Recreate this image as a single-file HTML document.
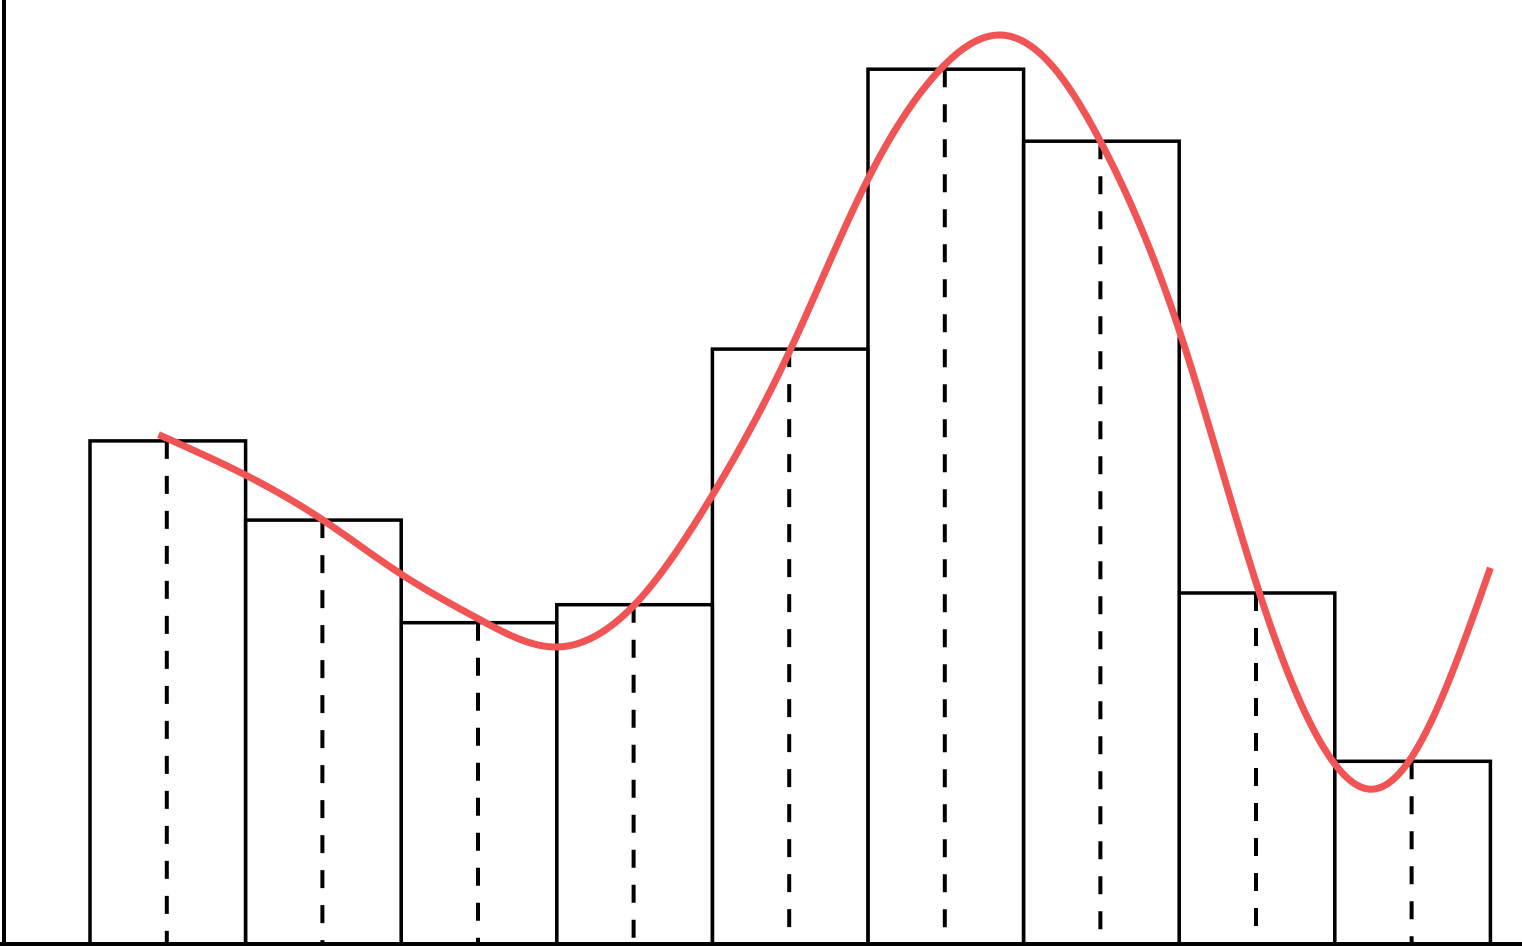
<!DOCTYPE html>
<html><head><meta charset="utf-8"><style>
html,body{margin:0;padding:0;background:#fff;}
svg{display:block;}
</style></head><body>
<svg id="chart" width="1522" height="950" viewBox="0 0 1522 950" xmlns="http://www.w3.org/2000/svg">
<g id="bars"></g>
<g id="dashes"></g>
<path id="curve" fill="none" stroke="#f05454" stroke-width="7" stroke-linejoin="round"/>
<line x1="4" y1="0" x2="4" y2="946" stroke="#000" stroke-width="4"/>
<line x1="0" y1="944" x2="1522" y2="944" stroke="#000" stroke-width="4"/>
</svg>
<script>
const binValues = [55.9, 47.1, 35.7, 37.7, 66.1, 97.2, 89.2, 39.0, 20.3];
const curveX = [0.44, 1.0, 1.48, 1.99, 2.51, 2.99, 3.5, 3.98, 4.5, 5.0, 5.46, 5.85, 6.23, 6.49, 7.0, 7.51, 8.0, 8.23, 8.48, 9.0];
const curveY = [56.6, 52.1, 47.3, 41.2, 36.0, 33.0, 37.7, 49.3, 66.0, 85.0, 97.1, 101.0, 96.6, 89.3, 68.2, 39.3, 20.0, 17.2, 20.4, 41.8];

const X0 = 90, BW = 155.6, BASE = 944, K = 9;
const xs = u => X0 + u * BW;
const ys = v => BASE - v * K;
const NS = 'http://www.w3.org/2000/svg';
const bars = document.getElementById('bars');
const dashes = document.getElementById('dashes');
binValues.forEach((v, i) => {
  const r = document.createElementNS(NS, 'rect');
  r.setAttribute('x', xs(i)); r.setAttribute('y', ys(v));
  r.setAttribute('width', BW); r.setAttribute('height', BASE - ys(v));
  r.setAttribute('fill', 'none'); r.setAttribute('stroke', '#000'); r.setAttribute('stroke-width', '3.5');
  
  
  bars.appendChild(r);
  const l = document.createElementNS(NS, 'line');
  const cx = xs(i + 0.5) - 1;
  l.setAttribute('x1', cx); l.setAttribute('x2', cx);
  l.setAttribute('y1', ys(v)); l.setAttribute('y2', BASE);
  l.setAttribute('stroke', '#000'); l.setAttribute('stroke-width', '4');
  l.setAttribute('stroke-dasharray', '18 17');
  
  
  dashes.appendChild(l);
});
// natural cubic spline y(x)
const X = curveX.map(xs), Y = curveY.map(ys), n = X.length;
const h = [], al = [], l = [1], mu = [0], z = [0], c = new Array(n).fill(0), b = [], dd = [];
for (let i = 0; i < n - 1; i++) h.push(X[i + 1] - X[i]);
for (let i = 1; i < n - 1; i++) al[i] = 3 / h[i] * (Y[i + 1] - Y[i]) - 3 / h[i - 1] * (Y[i] - Y[i - 1]);
for (let i = 1; i < n - 1; i++) {
  l[i] = 2 * (X[i + 1] - X[i - 1]) - h[i - 1] * mu[i - 1];
  mu[i] = h[i] / l[i];
  z[i] = (al[i] - h[i - 1] * z[i - 1]) / l[i];
}
for (let j = n - 2; j >= 0; j--) {
  c[j] = (j === 0 ? 0 : z[j]) - (j === 0 ? 0 : mu[j]) * c[j + 1];
  b[j] = (Y[j + 1] - Y[j]) / h[j] - h[j] * (c[j + 1] + 2 * c[j]) / 3;
  dd[j] = (c[j + 1] - c[j]) / (3 * h[j]);
}
let d = '';
for (let i = 0; i < n - 1; i++) {
  for (let s = 0; s <= 20; s++) {
    if (i > 0 && s === 0) continue;
    const t = h[i] * s / 20;
    const yv = Y[i] + b[i] * t + c[i] * t * t + dd[i] * t * t * t;
    d += (d ? 'L' : 'M') + (X[i] + t).toFixed(2) + ',' + yv.toFixed(2);
  }
}
document.getElementById('curve').setAttribute('d', d);
</script>
</body></html>
